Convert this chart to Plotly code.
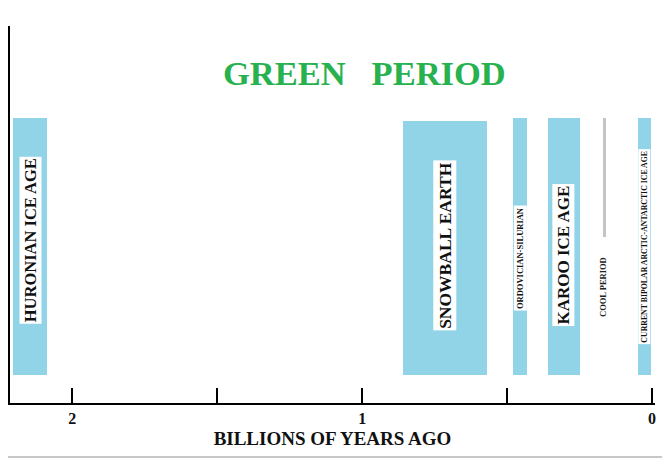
import plotly.graph_objects as go

# Ice-age periods (billions of years ago)
ice_names = ["HURONIAN ICE AGE", "SNOWBALL EARTH", "ORDOVICIAN-SILURIAN",
             "KAROO ICE AGE", "CURRENT BIPOLAR ARCTIC-ANTARCTIC ICE AGE"]
ice_start = [2.204, 0.86, 0.48, 0.36, 0.048]
ice_end = [2.087, 0.57, 0.43, 0.25, 0.003]
ice_bottom = [0.075, 0.075, 0.075, 0.075, 0.075]
ice_top = [0.755, 0.748, 0.755, 0.755, 0.755]
label_y = [0.432, 0.419, 0.385, 0.393, 0.414]
label_size = [16.5, 17.5, 8.5, 17, 7.8]

cool_name = "COOL PERIOD"
cool_start = [0.169]
cool_end = [0.159]
cool_bottom = [0.44]
cool_top = [0.755]
cool_label_y = 0.308

tick_vals = [2, 1.5, 1, 0.5, 0]
tick_text = ["<b>2</b>", "", "<b>1</b>", "", "<b>0</b>"]

SERIF = "Liberation Serif, Times New Roman, serif"
BLUE = "#91d4e8"

fig = go.Figure()
fig.add_trace(go.Bar(
    x=[(s + e) / 2 for s, e in zip(ice_start, ice_end)],
    width=[s - e for s, e in zip(ice_start, ice_end)],
    base=ice_bottom,
    y=[t - b for t, b in zip(ice_top, ice_bottom)],
    marker=dict(color=BLUE, line=dict(width=0)),
    hoverinfo="skip", showlegend=False,
))
fig.add_trace(go.Bar(
    x=[(s + e) / 2 for s, e in zip(cool_start, cool_end)],
    width=[s - e for s, e in zip(cool_start, cool_end)],
    base=cool_bottom,
    y=[t - b for t, b in zip(cool_top, cool_bottom)],
    marker=dict(color="#c4c4c4", line=dict(width=0)),
    hoverinfo="skip", showlegend=False,
))

for name, s, e, ly, sz in zip(ice_names, ice_start, ice_end, label_y, label_size):
    fig.add_annotation(
        x=(s + e) / 2, y=ly, xref="x", yref="y", text="<b>" + name + "</b>",
        textangle=-90, showarrow=False, bgcolor="white", borderpad=1,
        xanchor="center", yanchor="middle",
        font=dict(family=SERIF, size=sz, color="#111111"),
    )
fig.add_annotation(
    x=(cool_start[0] + cool_end[0]) / 2 + 0.005, y=cool_label_y, xref="x", yref="y",
    text="<b>" + cool_name + "</b>", textangle=-90, showarrow=False,
    xanchor="center", yanchor="middle",
    font=dict(family=SERIF, size=8.5, color="#222222"),
)

fig.add_annotation(
    x=0.55, y=0.875, xref="paper", yref="paper", xanchor="center", yanchor="middle",
    text="<b>GREEN\u00a0\u00a0\u00a0PERIOD</b>", showarrow=False,
    font=dict(family=SERIF, size=34.5, color="#27b24f"),
)

# faint grey border line at bottom of image
fig.add_shape(type="line", xref="paper", yref="paper", x0=-0.01, x1=1.02,
              y0=-0.143, y1=-0.143, line=dict(color="#c8c8c8", width=2))

fig.update_layout(
    width=662, height=451,
    margin=dict(l=2, r=15, t=18, b=56),
    paper_bgcolor="white", plot_bgcolor="white",
    bargap=0,
    xaxis=dict(
        range=[2.215, -0.01], showgrid=False, zeroline=False,
        showline=True, linecolor="black", linewidth=2,
        tickvals=tick_vals, ticktext=tick_text,
        ticks="inside", ticklen=15, tickwidth=2, tickcolor="black",
        tickfont=dict(family=SERIF, size=16, color="#111111"),
        title=dict(text="<b>BILLIONS OF YEARS AGO</b>", standoff=5,
                   font=dict(family=SERIF, size=19, color="#111111")),
    ),
    yaxis=dict(
        range=[0, 1], showgrid=False, zeroline=False,
        showline=True, linecolor="black", linewidth=2,
        showticklabels=False, ticks="",
    ),
)

fig.write_html("out.html")
